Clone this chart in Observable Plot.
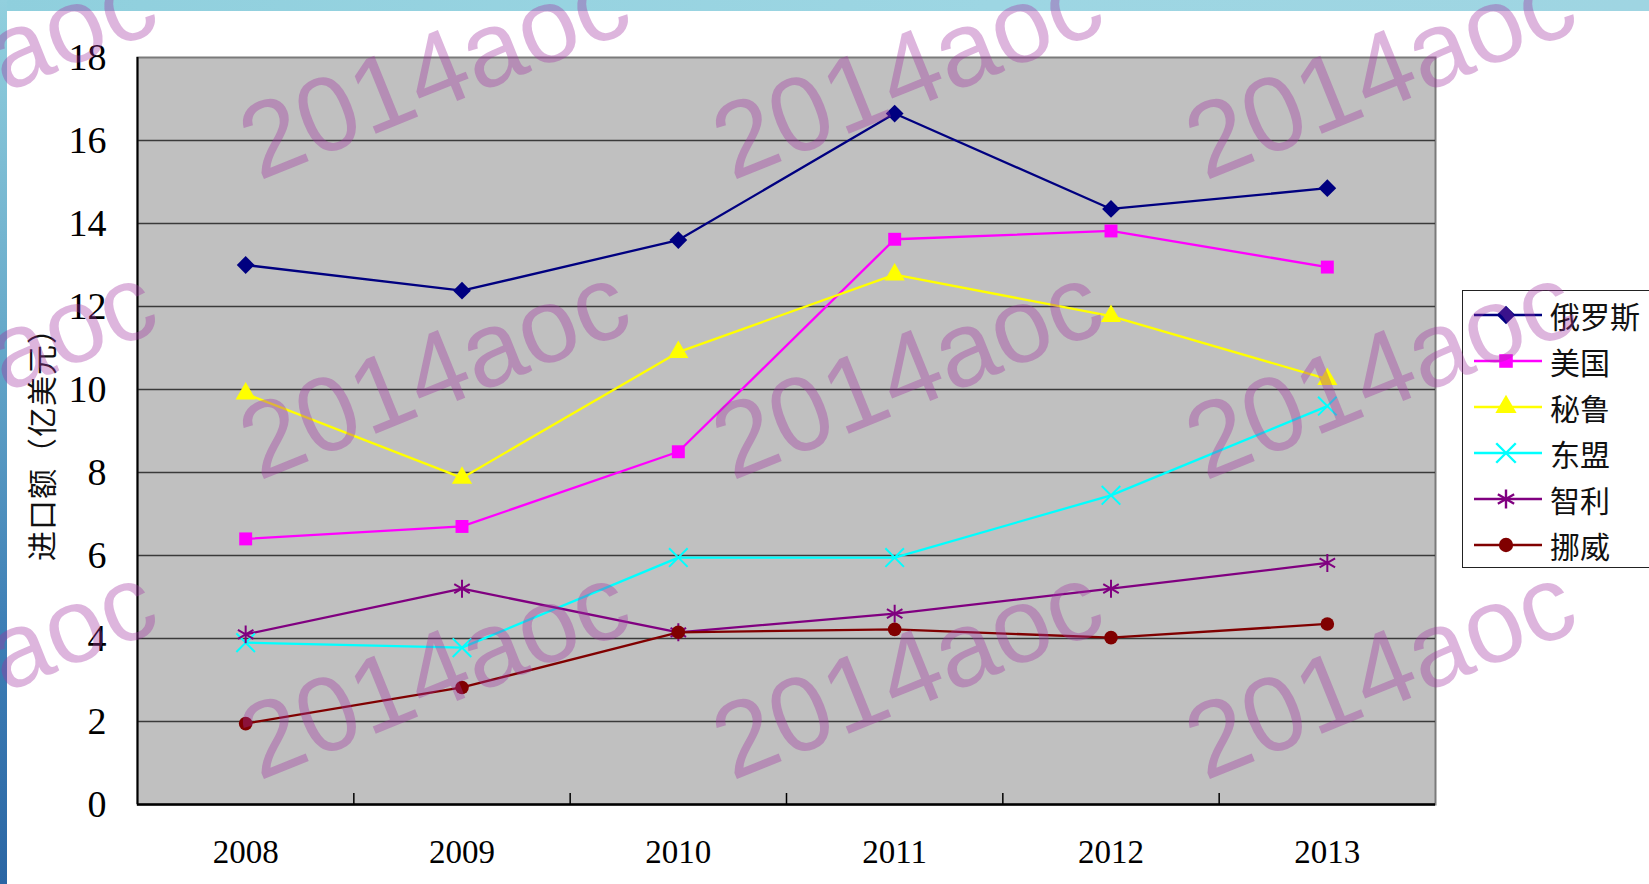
<!DOCTYPE html>
<html>
<head>
<meta charset="utf-8">
<script src="https://cdn.jsdelivr.net/npm/d3@7"></script>
<script src="https://cdn.jsdelivr.net/npm/@observablehq/plot@0.6"></script>
<style>
  html, body { margin: 0; padding: 0; background: #fff; overflow: hidden; }
  #page {
    position: relative; width: 1649px; height: 884px; background: #fff; overflow: hidden;
  }
  #topbar { position: absolute; left: 0; top: 0; width: 1649px; height: 11px;
    background: linear-gradient(to right, #8fcfdd, #9dd6e3 60%, #9fd5e2); }
  #leftbar { position: absolute; left: 0; top: 0; width: 7px; height: 884px;
    background: linear-gradient(to bottom, #92d0de 0%, #6aaccb 35%, #3f80b6 70%, #2a66a4 100%); }
  #chart { position: absolute; left: 0; top: 0; }
  #ylabel { position: absolute; left: 40px; top: 437px; width: 300px; height: 40px;
    margin-left: -150px; margin-top: -20px; text-align: center; line-height: 40px;
    transform: rotate(-90deg); font-family: "Noto Sans CJK SC", sans-serif; font-size: 30px;
    letter-spacing: 1px; color: #111; white-space: nowrap; }
  #legend { position: absolute; left: 1462px; top: 290px; width: 210px; height: 278px;
    border: 1.5px solid #222; background: #fff; padding-top: 1px; box-sizing: border-box; }
  .lrow { height: 46px; display: flex; align-items: center; padding-left: 11px; }
  .lrow span { font-family: "Noto Sans CJK SC", sans-serif; font-size: 30px; color: #111; margin-left: 8px; line-height: 46px; }
  #wm { position: absolute; left: 0; top: 0; pointer-events: none; }
</style>
</head>
<body>
<div id="page">
  <div id="topbar"></div>
  <div id="leftbar"></div>
  <div id="chart"></div>
  <div id="ylabel"></div>
  <div id="legend"></div>
  <svg id="wm" width="1649" height="884"></svg>
</div>
<script>
// ---- data ----
const years = [2008, 2009, 2010, 2011, 2012, 2013];
const seriesNames = ["俄罗斯", "美国", "秘鲁", "东盟", "智利", "挪威"];
const russia = [13.0, 12.38, 13.6, 16.65, 14.35, 14.85];
const usa = [6.4, 6.7, 8.5, 13.62, 13.82, 12.95];
const peru = [9.9, 7.87, 10.9, 12.77, 11.77, 10.25];
const asean = [3.9, 3.78, 5.95, 5.95, 7.45, 9.6];
const chile = [4.1, 5.2, 4.15, 4.6, 5.2, 5.82];
const norway = [1.95, 2.82, 4.15, 4.22, 4.02, 4.35];
const yTicks = [0, 2, 4, 6, 8, 10, 12, 14, 16, 18];
const yLabel = "进口额（亿美元）";
const watermarkText = "2014aoc";

// ---- styles ----
const seriesValues = [russia, usa, peru, asean, chile, norway];
const seriesColors = ["#000080", "#ff00ff", "#ffff00", "#00ffff", "#800080", "#800000"];
const seriesSymbols = ["diamond2", "square", "triangle", "times", "asterisk", "circle"];
const symbolFilled = [true, true, true, false, false, true];
const symbolR = [8, 7.3, 7.5, 8.5, 8.5, 6.8];

const tidy = seriesNames.flatMap((name, i) =>
  years.map((year, j) => ({series: name, year, value: seriesValues[i][j]})));
const boundaries = years.slice(0, -1).map(y => y + 0.5);

const dotMarks = seriesNames.map((name, i) =>
  Plot.dot(tidy.filter(d => d.series === name), {
    x: "year", y: "value", symbol: seriesSymbols[i], r: symbolR[i],
    fill: symbolFilled[i] ? seriesColors[i] : "none",
    stroke: symbolFilled[i] ? "none" : seriesColors[i],
    strokeWidth: 2
  }));

const chart = Plot.plot({
  width: 1649, height: 884,
  marginLeft: 137, marginRight: 214, marginTop: 57, marginBottom: 80,
  style: {background: "transparent", fontFamily: "Liberation Serif, serif", color: "#000"},
  x: {domain: [years[0] - 0.5, years[years.length - 1] + 0.5]},
  y: {domain: [yTicks[0], yTicks[yTicks.length - 1]]},
  color: {domain: seriesNames, range: seriesColors},
  marks: [
    Plot.frame({fill: "#c0c0c0", stroke: "#7a7a7a", strokeWidth: 2}),
    Plot.ruleY(yTicks.slice(1, -1), {stroke: "#3a3a3a", strokeWidth: 1.4}),
    Plot.axisY(yTicks, {tickSize: 0, tickPadding: 31, fontSize: 38, label: null}),
    Plot.axisX(years, {tickSize: 0, tickPadding: 35, fontSize: 33, tickFormat: d => String(d), label: null}),
    Plot.ruleX(boundaries, {y1: 0, y2: 0, insetTop: -11, stroke: "#000", strokeWidth: 1.5}),
    Plot.ruleX([years[0] - 0.5], {stroke: "#000", strokeWidth: 2}),
    Plot.ruleY([0], {stroke: "#000", strokeWidth: 2.5}),
    Plot.line(tidy, {x: "year", y: "value", z: "series", stroke: "series", strokeWidth: 2.3}),
    ...dotMarks
  ]
});
document.getElementById("chart").appendChild(chart);
document.getElementById("ylabel").textContent = yLabel;

// ---- legend ----
const legend = d3.select("#legend");
const d3Symbols = {diamond2: d3.symbolDiamond2, square: d3.symbolSquare, triangle: d3.symbolTriangle,
  times: d3.symbolTimes, asterisk: d3.symbolAsterisk, circle: d3.symbolCircle};
seriesNames.forEach((name, i) => {
  const row = legend.append("div").attr("class", "lrow");
  const svg = row.append("svg").attr("width", 68).attr("height", 30);
  svg.append("line").attr("x1", 0).attr("x2", 68).attr("y1", 15).attr("y2", 15)
    .attr("stroke", seriesColors[i]).attr("stroke-width", 2.5);
  const size = Math.PI * symbolR[i] * symbolR[i] * 1.1;
  svg.append("path").attr("transform", "translate(32,15)")
    .attr("d", d3.symbol(d3Symbols[seriesSymbols[i]], size)())
    .attr("fill", symbolFilled[i] ? seriesColors[i] : "none")
    .attr("stroke", symbolFilled[i] ? "none" : seriesColors[i])
    .attr("stroke-width", 2.4);
  row.append("span").text(name);
});

// ---- watermark ----
const wm = d3.select("#wm");
for (let r = 0; r < 3; r++) {
  for (let c = -1; c < 4; c++) {
    const x = 259 + c * 473, y = 181 + r * 300;
    wm.append("text").attr("x", x).attr("y", y)
      .attr("transform", `rotate(-22,${x},${y})`)
      .attr("font-family", "Liberation Sans, Arial, sans-serif")
      .attr("font-size", 106)
      .attr("fill", "rgba(160,50,160,0.36)")
      .text(watermarkText);
  }
}
</script>
</body>
</html>
